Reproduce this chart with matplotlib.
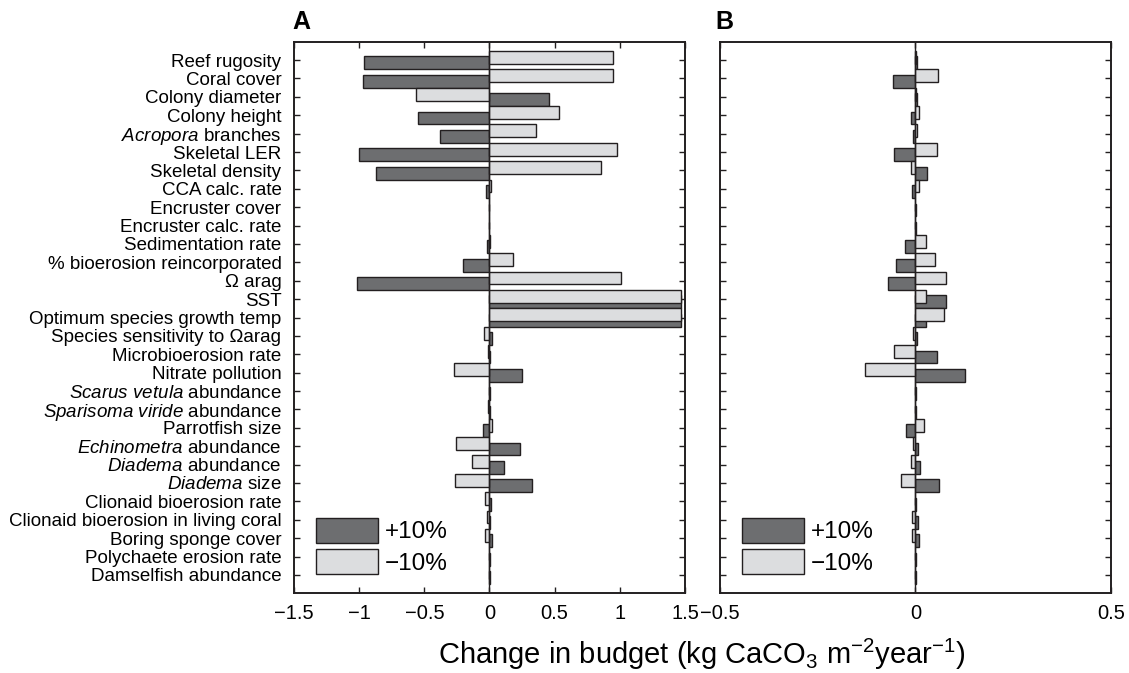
import matplotlib
matplotlib.use("Agg")
import matplotlib.pyplot as plt
from matplotlib.patches import Patch
import numpy as np

plt.rcParams["font.family"] = ["Liberation Sans", "DejaVu Sans"]
plt.rcParams["mathtext.fontset"] = "custom"
plt.rcParams["mathtext.rm"] = "Liberation Sans"
plt.rcParams["mathtext.it"] = "Liberation Sans:italic"

# parameter names (top to bottom)
params = [
    "Reef rugosity", "Coral cover", "Colony diameter", "Colony height",
    r"$\mathit{Acropora}$ branches", "Skeletal LER", "Skeletal density",
    "CCA calc. rate", "Encruster cover", "Encruster calc. rate",
    "Sedimentation rate", "% bioerosion reincorporated", "Ω arag", "SST",
    "Optimum species growth temp", "Species sensitivity to Ωarag",
    "Microbioerosion rate", "Nitrate pollution",
    r"$\mathit{Scarus\ vetula}$ abundance",
    r"$\mathit{Sparisoma\ viride}$ abundance", "Parrotfish size",
    r"$\mathit{Echinometra}$ abundance", r"$\mathit{Diadema}$ abundance",
    r"$\mathit{Diadema}$ size", "Clionaid bioerosion rate",
    "Clionaid bioerosion in living coral", "Boring sponge cover",
    "Polychaete erosion rate", "Damselfish abundance",
]

# panel A: change in budget for +10% / -10% perturbation
a_plus = [-0.96, -0.97, 0.455, -0.545, -0.38, -1.0, -0.87, -0.025, -0.004, -0.003,
          -0.02, -0.20, -1.02, 1.47, 1.47, 0.02, 0.003, 0.253, 0.002, 0.002,
          -0.046, 0.235, 0.115, 0.33, 0.015, 0.004, 0.02, 0.002, 0.002]
a_minus = [0.944, 0.951, -0.565, 0.532, 0.358, 0.982, 0.859, 0.008, -0.003, -0.002,
           0.004, 0.179, 1.01, 1.47, 1.47, -0.04, -0.015, -0.27, -0.003, -0.015,
           0.023, -0.256, -0.136, -0.263, -0.033, -0.016, -0.038, -0.003, -0.003]

# panel B
b_plus = [0.003, -0.058, 0.003, -0.011, -0.005, -0.055, 0.03, -0.01, 0.002, 0.002,
          -0.026, -0.051, -0.07, 0.077, 0.026, 0.005, 0.055, 0.128, 0.002, 0.002,
          -0.024, 0.007, 0.011, 0.061, 0.002, 0.007, 0.008, 0.002, 0.002]
b_minus = [0.002, 0.058, 0.002, 0.010, 0.005, 0.054, -0.012, 0.010, -0.002, -0.002,
           0.026, 0.051, 0.077, 0.027, 0.074, -0.005, -0.055, -0.128, -0.002, -0.002,
           0.021, -0.005, -0.011, -0.038, -0.002, -0.008, -0.008, -0.002, -0.002]

DARK = "#6d6e70"
LIGHT = "#dcdddf"
EDGE = "#231f20"

fig = plt.figure(figsize=(11.29, 6.73), dpi=100)
axA = fig.add_axes([0.2604, 0.1184, 0.3463, 0.8196])
axB = fig.add_axes([0.6377, 0.1184, 0.3463, 0.8196])

y = np.arange(len(params))


def draw_panel(ax, plus, minus, xlim, xticks):
    ax.barh(y + 0.15, plus, height=0.7, color=DARK, edgecolor=EDGE, linewidth=1, zorder=2)
    ax.barh(y - 0.15, minus, height=0.7, color=LIGHT, edgecolor=EDGE, linewidth=1, zorder=3)
    ax.axvline(0, color=EDGE, lw=1, zorder=4)
    ax.set_xlim(*xlim)
    ax.set_ylim(len(params), -1)
    ax.set_xticks(xticks)
    ax.set_xticklabels([("%g" % t).replace("-", "\u2212") for t in xticks], fontsize=14.5)
    ax.set_yticks(y)
    ax.tick_params(axis="both", direction="in", length=4, width=1,
                   top=True, right=True, color=EDGE)
    ax.tick_params(axis="x", pad=8)
    for s in ax.spines.values():
        s.set_linewidth(1.4)
        s.set_color(EDGE)
    handles = [Patch(facecolor=DARK, edgecolor=EDGE, lw=1, label="+10%"),
               Patch(facecolor=LIGHT, edgecolor=EDGE, lw=1, label="\u221210%")]
    ax.legend(handles=handles, loc="lower left", bbox_to_anchor=(0.056, 0.033),
              frameon=False, fontsize=17.5, handlelength=2.55, handleheight=1.2,
              handletextpad=0.3, labelspacing=0.25, borderpad=0, borderaxespad=0)


draw_panel(axA, a_plus, a_minus, (-1.5, 1.5), [-1.5, -1, -0.5, 0, 0.5, 1, 1.5])
axA.set_yticklabels(params, fontsize=13.5)
axA.tick_params(axis="y", pad=9)

draw_panel(axB, b_plus, b_minus, (-0.5, 0.5), [-0.5, 0, 0.5])
axB.set_yticklabels([])

fig.text(0.259, 0.967, "A", fontsize=18, fontweight="bold", va="center", ha="left")
fig.text(0.634, 0.967, "B", fontsize=18, fontweight="bold", va="center", ha="left")
fig.text(0.622, 0.027, r"Change in budget (kg CaCO$_3$ m$^{-2}$year$^{-1}$)",
         fontsize=21, ha="center", va="center")

fig.savefig("out.png", dpi=100)
